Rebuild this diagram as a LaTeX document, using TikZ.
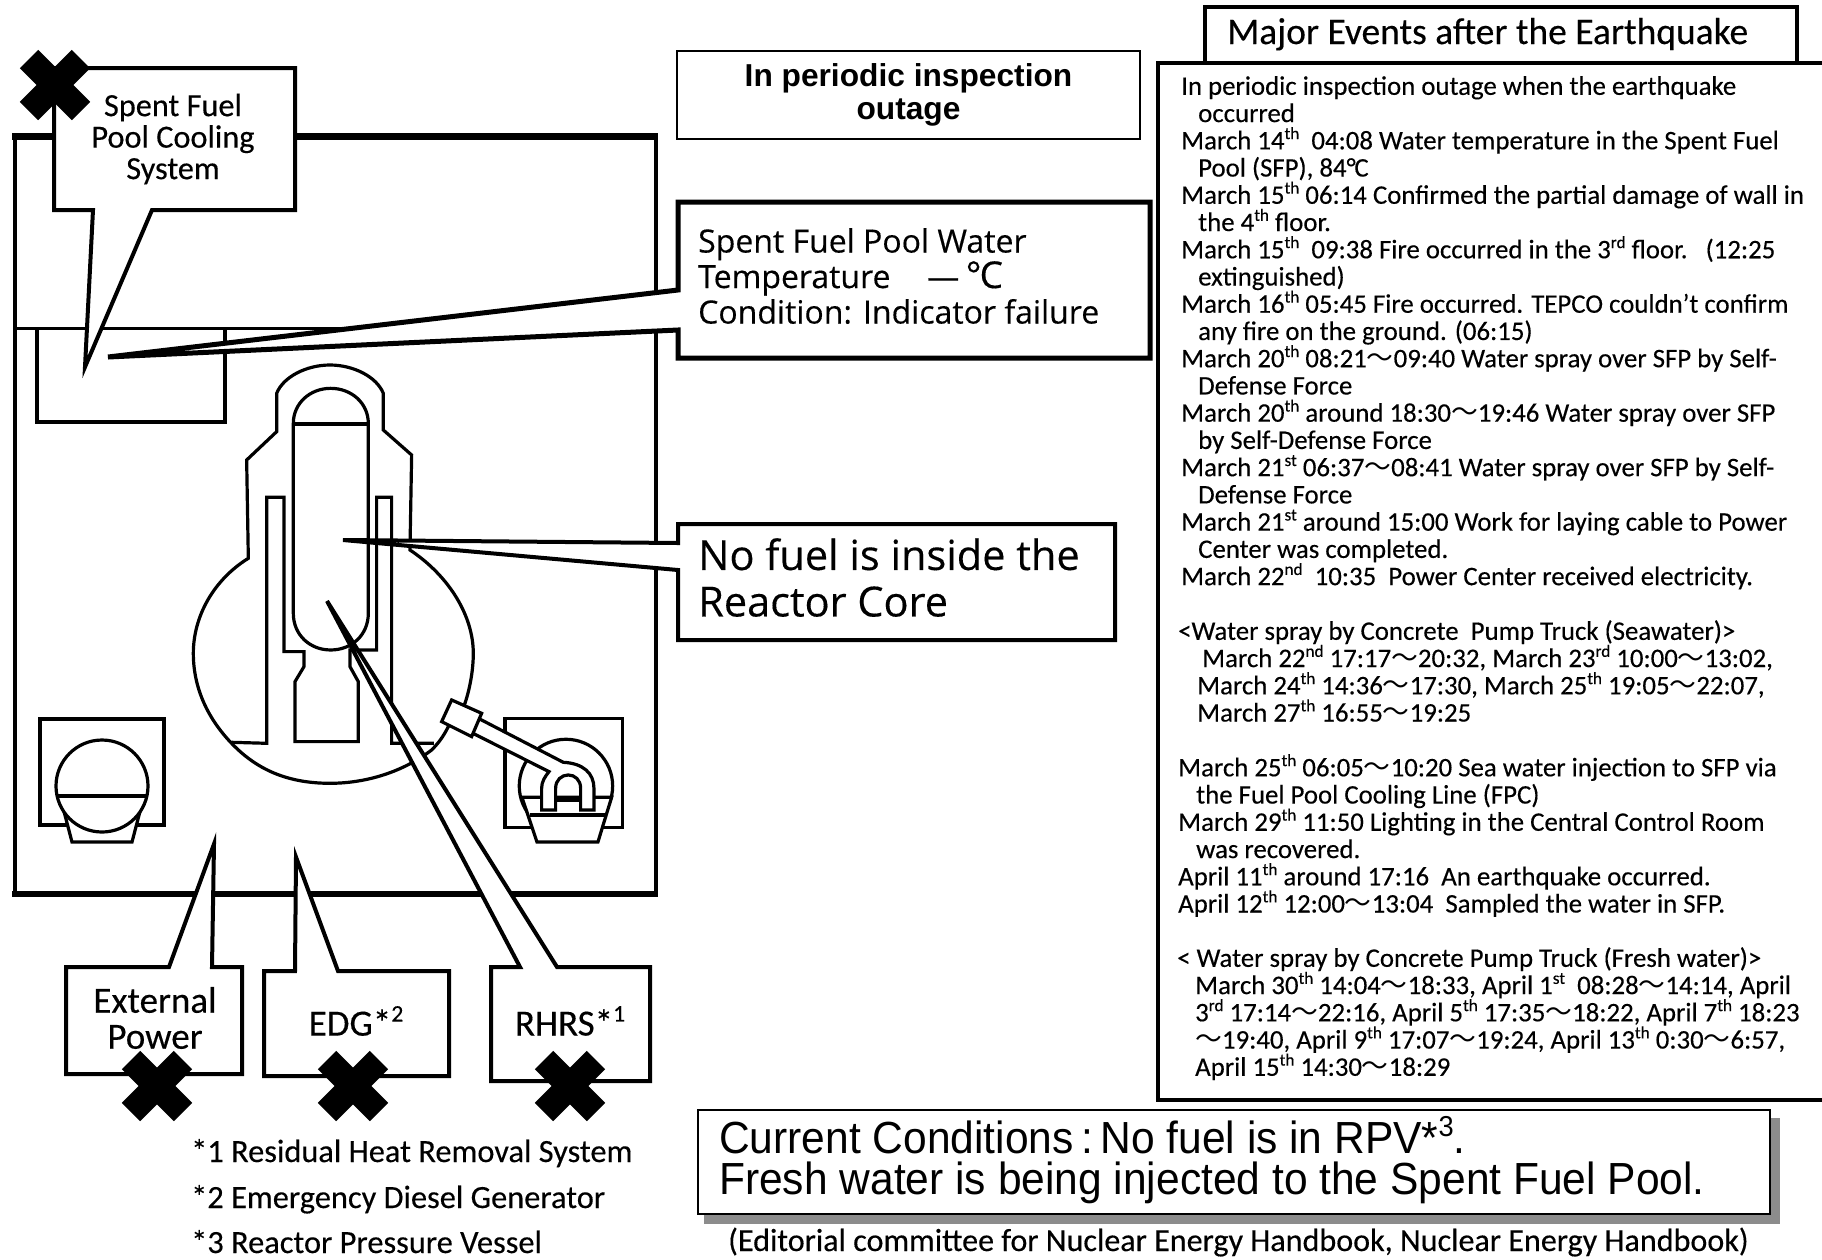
\documentclass[tikz,border=0pt]{standalone}
\usepackage{fontspec}
\usepackage{graphicx}
\setmainfont{Carlito}[FakeBold=0.3]
\newfontfamily\opensans{Open Sans}[FakeBold=0.3]
\newfontfamily\arialish{Liberation Sans}
\newfontfamily\arialcond[FakeStretch=0.945]{Liberation Sans}
\newfontfamily\cjk{Noto Sans CJK JP}
\newcommand{\wv}{{\cjk ～}}
\newcommand{\sps}[1]{\raisebox{0.38em}{\scalebox{0.64}{#1}}}
\tikzset{
  bldg/.style={line width=4pt,line join=miter},
  part/.style={line width=3.2pt,line join=miter,fill=white},
  callout/.style={line width=4pt,line join=miter,fill=white,draw=black},
  lbl/.style={inner sep=0pt,align=center,font=\fontsize{32.3}{31.5}\selectfont},
  evt/.style={inner sep=0pt,align=left,anchor=north west,font=\fontsize{26.8}{27.24}\selectfont},
  note/.style={inner sep=0pt,anchor=base west,font=\fontsize{32.4}{34}\selectfont},
  crossmark/.pic={
    \draw[line width=26pt,line cap=butt] (-26,-26) -- (26,26);
    \draw[line width=26pt,line cap=butt] (-26,26) -- (26,-26);
  }
}
\begin{document}
\begin{tikzpicture}[x=1pt,y=-1pt]
\useasboundingbox[fill=white] (0,0) rectangle (1822,1259);

% building
\draw[bldg] (15,136) -- (15,894);
\draw[bldg] (656,136) -- (656,894);
\draw[line width=7pt] (12,136) -- (658,136);
\draw[line width=6pt] (12,894) -- (658,894);
\draw[line width=3pt] (15,328) -- (656,328);
\draw[line width=3.5pt] (37,328) -- (37,422) -- (225,422) -- (225,328);

% equipment boxes
\draw[part] (40,719) rectangle (164,825);
\draw[part] (61,800) -- (72,842) -- (132,842) -- (143,800) -- cycle;
\draw[part] (102,786) circle (46);
\draw[line width=3.2pt] (57,796) -- (147,796);

% reactor, drawn at 3x from (150,360)
\begin{scope}[shift={(150,360)},x=0.3333pt,y=-0.3333pt]
  \draw[part] (1065,1075) rectangle (1418,1403);
  \draw[part] (1248,1278) circle (46.7pt);
  \draw[part] (1116,1312) -- (1161,1446) -- (1344,1446) -- (1385,1312) -- cycle;
  \draw[line width=3.2pt] (1140,1365) -- (1367,1365);
  % containment
  \draw[part] (780,570) .. controls (900,650) and (970,770) .. (970,880)
    .. controls (970,930) and (960,985) .. (945,1030)
    -- (895,1100) .. controls (880,1130) and (865,1150) .. (845,1170)
    .. controls (760,1235) and (650,1270) .. (540,1270)
    .. controls (400,1270) and (310,1220) .. (240,1145)
    .. controls (170,1070) and (130,980) .. (130,880)
    .. controls (130,770) and (190,660) .. (295,595)
    -- (290,300) -- (380,215) -- (380,100)
    .. controls (400,50) and (470,15) .. (540,15)
    .. controls (610,15) and (680,50) .. (700,100)
    -- (700,210) -- (785,285) -- cycle;
  % shield wall and pedestal
  \draw[line width=3.2pt,line join=miter] (245,1147) -- (350,1150) -- (350,412) -- (402,412) -- (402,875) -- (462,875)
    -- (462,920) -- (435,965) -- (435,1145) -- (625,1145) -- (625,965) -- (600,920)
    -- (600,870) -- (680,870) -- (680,412) -- (725,412) -- (725,1150) -- (852,1150);
  % RPV
  \draw[part] (430,190) .. controls (430,130) and (480,85) .. (542,85)
    .. controls (605,85) and (655,130) .. (655,190)
    -- (655,760) .. controls (655,825) and (605,870) .. (542,870)
    .. controls (480,870) and (430,825) .. (430,760) -- cycle;
  \draw[line width=3.2pt] (430,192) -- (655,192);
  % pipe and valve
  \draw[part] (985,1075) -- (1240,1207) .. controls (1300,1210) and (1332,1240) .. (1332,1285)
    -- (1332,1350) -- (1292,1350) -- (1292,1285)
    .. controls (1292,1260) and (1275,1245) .. (1255,1245)
    .. controls (1235,1245) and (1217,1260) .. (1217,1285)
    -- (1217,1350) -- (1175,1350) -- (1175,1285)
    .. controls (1175,1265) and (1185,1250) .. (1197,1235) -- (965,1118) -- cycle;
  \draw[line width=3.2pt] (1217,1320) -- (1292,1320);
  \draw[part] (905,1020) -- (995,1060) -- (965,1130) -- (875,1085) -- cycle;
\end{scope}

% callouts with white fill
\draw[callout] (54,68) -- (295,68) -- (295,210) -- (152,210) -- (85,367) -- (93,210) -- (54,210) -- cycle;
\draw[callout,line width=5pt] (678,202) -- (1150,202) -- (1150,358) -- (678,358) -- (678,330) -- (108,357) -- (678,290) -- cycle;
\draw[callout] (678,524) -- (1115,524) -- (1115,640) -- (678,640) -- (678,570) -- (343,540) -- (678,543) -- cycle;
\draw[callout] (66,967) -- (169,967) -- (214,844) -- (212,967) -- (242,967) -- (242,1074) -- (66,1074) -- cycle;
\draw[callout] (264,971) -- (295,971) -- (296,857) -- (338,971) -- (449,971) -- (449,1076) -- (264,1076) -- cycle;
\draw[callout] (491,967) -- (520,967) -- (327,601) -- (557,967) -- (650,967) -- (650,1081) -- (491,1081) -- cycle;

% callout text
\node[lbl] (sfpcs) at (173,139) {Spent Fuel\\Pool Cooling\\System};
\node[lbl,font=\fontsize{37}{36}\selectfont] (extpower) at (155,1018) {External\\Power};
\node[lbl,font=\fontsize{37}{36}\selectfont] (edg) at (356,1021) {EDG*\sps{2}};
\node[lbl,font=\fontsize{37}{36}\selectfont] (rhrs) at (570,1021) {RHRS*\sps{1}};

\node[inner sep=0pt,align=left,anchor=north west,font=\opensans\fontsize{32}{35.5}\selectfont] (temp) at (698,228)
  {Spent Fuel Pool Water\\Temperature\hspace{1.15em}—\hspace{0.2em}{\fontsize{37}{35.5}\selectfont °\kern-0.05em C}\\Condition: Indicator failure};
\node[inner sep=0pt,align=left,anchor=north west,font=\opensans\fontsize{41.5}{46.5}\selectfont] (nofuel) at (698,538)
  {No fuel is inside the\\Reactor Core};
\node[draw,line width=2pt,inner sep=0pt,minimum width=463pt,minimum height=88pt,align=center,
  font=\arialish\bfseries\fontsize{31.7}{33}\selectfont] (inspect) at (908.5,95) {In periodic inspection\\outage};

% crosses
\path (55,85) pic {crossmark};
\path (157,1086) pic {crossmark};
\path (353,1086) pic {crossmark};
\path (570,1086) pic {crossmark};

% footnotes
\node[note] (fn1) at (191,1162) {*1 Residual Heat Removal System};
\node[note] (fn2) at (191,1208) {*2 Emergency Diesel Generator};
\node[note] (fn3) at (191,1253) {*3 Reactor Pressure Vessel};

% events panel
\draw[line width=4.5pt] (1205,62) -- (1205,7) -- (1797,7) -- (1797,62);
\node[inner sep=0pt,anchor=base west,font=\fontsize{37.5}{38}\selectfont] (title) at (1227,44) {Major Events after the Earthquake};
\draw[line width=4.5pt] (1830,63) -- (1158,63) -- (1158,1100) -- (1830,1100);

\node[evt] (ev1) at (1181,76) {In periodic inspection outage when the earthquake\\
\hspace*{17pt}occurred\\
March 14\sps{th}\ \ 04:08 Water temperature in the Spent Fuel\\
\hspace*{17pt}Pool (SFP), 84°\kern-0.05em C\\
March 15\sps{th} 06:14 Confirmed the partial damage of wall in\\
\hspace*{17pt}the 4\sps{th} floor.\\
March 15\sps{th}\ \ 09:38 Fire occurred in the 3\sps{rd} floor.\ \ \ (12:25\\
\hspace*{17pt}extinguished)\\
March 16\sps{th} 05:45 Fire occurred. TEPCO couldn’t confirm\\
\hspace*{17pt}any fire on the ground. (06:15)\\
March 20\sps{th} 08:21\wv 09:40 Water spray over SFP by Self-\\
\hspace*{17pt}Defense Force\\
March 20\sps{th} around 18:30\wv 19:46 Water spray over SFP\\
\hspace*{17pt}by Self-Defense Force\\
March 21\sps{st} 06:37\wv 08:41 Water spray over SFP by Self-\\
\hspace*{17pt}Defense Force\\
March 21\sps{st} around 15:00 Work for laying cable to Power\\
\hspace*{17pt}Center was completed.\\
March 22\sps{nd}\ \ 10:35\ \ Power Center received electricity.};

\node[evt] (ev2) at (1178,620) {<Water spray by Concrete\ \ Pump Truck (Seawater)>\\
\hspace*{24pt}March 22\sps{nd} 17:17\wv 20:32, March 23\sps{rd} 10:00\wv 13:02,\\
\hspace*{19pt}March 24\sps{th} 14:36\wv 17:30, March 25\sps{th} 19:05\wv 22:07,\\
\hspace*{19pt}March 27\sps{th} 16:55\wv 19:25};

\node[evt] (ev3) at (1178,754) {March 25\sps{th} 06:05\wv 10:20 Sea water injection to SFP via\\
\hspace*{18pt}the Fuel Pool Cooling Line (FPC)\\
March 29\sps{th} 11:50 Lighting in the Central Control Room\\
\hspace*{18pt}was recovered.\\
April 11\sps{th} around 17:16\ \ An earthquake occurred.\\
April 12\sps{th} 12:00\wv 13:04\ \ Sampled the water in SFP.};

\node[evt] (ev4) at (1177,947) {< Water spray by Concrete Pump Truck (Fresh water)>\\
\hspace*{18pt}March 30\sps{th} 14:04\wv 18:33, April 1\sps{st}\ \ 08:28\wv 14:14, April\\
\hspace*{18pt}3\sps{rd} 17:14\wv 22:16, April 5\sps{th} 17:35\wv 18:22, April 7\sps{th} 18:23\\
\hspace*{18pt}\wv 19:40, April 9\sps{th} 17:07\wv 19:24, April 13\sps{th} 0:30\wv 6:57,\\
\hspace*{18pt}April 15\sps{th} 14:30\wv 18:29};

% current conditions
\fill[black!45] (704,1118) rectangle (1780,1224);
\node[draw,fill=white,line width=2pt,inner sep=0pt,minimum width=1072pt,minimum height=104pt] (curbox) at (1234,1162) {};
\node[inner sep=0pt,align=left,anchor=west,font=\arialcond\fontsize{45}{41}\selectfont] (current) at (719,1160)
  {Current Conditions\,:\,No fuel is in RPV*\sps{3}.\\Fresh water is being injected to the Spent Fuel Pool.};
\node[inner sep=0pt,anchor=base west,font=\fontsize{32.1}{34}\selectfont] (source) at (728,1251)
  {(Editorial committee for Nuclear Energy Handbook, Nuclear Energy Handbook)};
\end{tikzpicture}
\end{document}
